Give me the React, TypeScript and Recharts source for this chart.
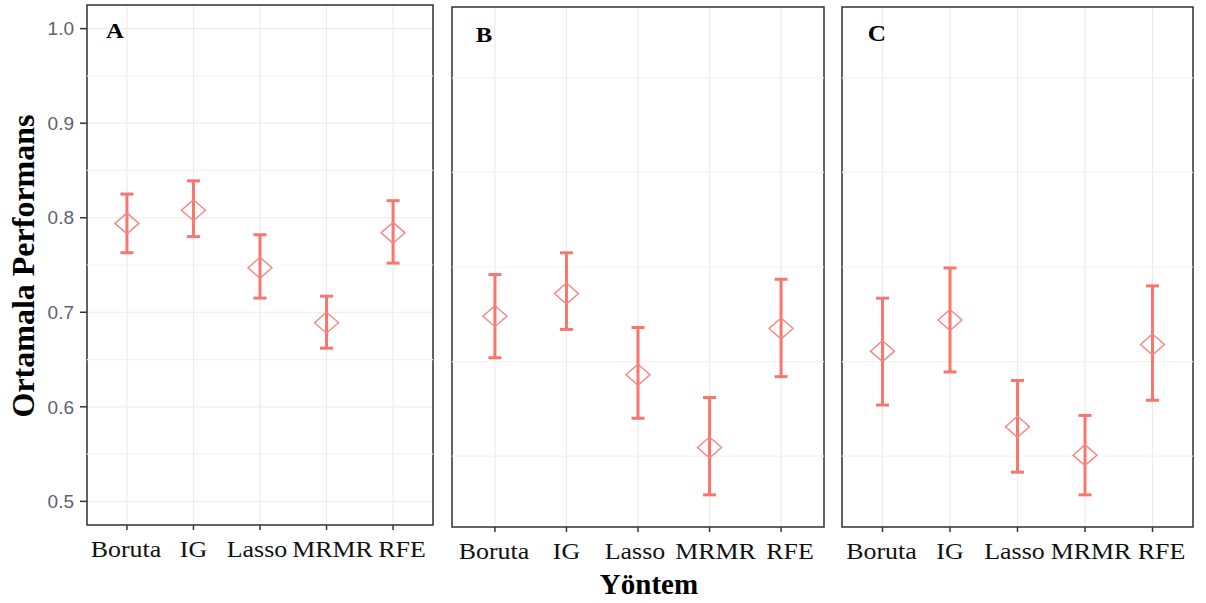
import { ComposedChart, Scatter, ErrorBar, XAxis, YAxis, CartesianGrid, ReferenceLine, ReferenceArea } from 'recharts';

// Yöntem (method) names on the x axis
const methods = ['Boruta', 'IG', 'Lasso', 'MRMR', 'RFE'];
const yTicks = [0.5, 0.6, 0.7, 0.8, 0.9, 1.0];
const minorTicks = [0.55, 0.65, 0.75, 0.85, 0.95];

// Panel A
const meanA = [0.794, 0.808, 0.747, 0.689, 0.784];
const lowA = [0.763, 0.780, 0.715, 0.662, 0.752];
const highA = [0.825, 0.839, 0.782, 0.717, 0.818];

// Panel B
const meanB = [0.698, 0.722, 0.636, 0.559, 0.685];
const lowB = [0.654, 0.684, 0.590, 0.509, 0.634];
const highB = [0.742, 0.765, 0.686, 0.612, 0.737];

// Panel C
const meanC = [0.661, 0.694, 0.581, 0.551, 0.668];
const lowC = [0.604, 0.639, 0.533, 0.509, 0.609];
const highC = [0.717, 0.749, 0.630, 0.593, 0.730];

const RED = '#F8766D';
const SERIF = '"Liberation Serif", "Times New Roman", serif';
// small horizontal nudges so the crowded labels don't run together
const labelNudge = [-1, 0, -3, 6, 9];

const rows = (mean: number[], low: number[], high: number[]) =>
  methods.map((m, i) => ({
    idx: i + 1,
    name: m,
    value: mean[i],
    err: [mean[i] - low[i], high[i] - mean[i]],
  }));

const Diamond = (props: any) => {
  const { cx, cy } = props;
  return (
    <path
      d={`M${cx},${cy - 10.5} L${cx + 12},${cy} L${cx},${cy + 10.5} L${cx - 12},${cy} Z`}
      fill="none"
      stroke="#f4877e"
      strokeWidth={1.4}
    />
  );
};

const MethodTick = (props: any) => {
  const { x, y, payload } = props;
  const i = payload.value - 1;
  return (
    <g transform={`translate(${x + labelNudge[i]},${y})`}>
      <text
        transform="scale(1.08,1)"
        textAnchor="middle"
        dy="0.71em"
        fill="#111"
        fontSize={24}
        fontFamily={SERIF}
      >
        {methods[i]}
      </text>
    </g>
  );
};

type PanelProps = {
  data: any[];
  left: number;
  width: number;
  yWidth: number;
  top: number;
  right: number;
  labels: boolean;
};

function Panel({ data, left, width, yWidth, top, right, labels }: PanelProps) {
  return (
    <div style={{ position: 'absolute', left, top: 0 }}>
      <ComposedChart width={width} height={603} data={data} margin={{ top, right, bottom: 0, left: 0 }}>
        <CartesianGrid stroke="#ebebeb" strokeWidth={1.2} />
        {minorTicks.map((v) => (
          <ReferenceLine key={v} y={v} stroke="#f3f3f3" strokeWidth={1.2} />
        ))}
        <XAxis
          type="number"
          dataKey="idx"
          domain={[0.4, 5.6]}
          ticks={[1, 2, 3, 4, 5]}
          allowDataOverflow
          interval={0}
          axisLine={false}
          tickSize={5}
          tickMargin={10}
          tickLine={{ stroke: '#333', strokeWidth: 1.5 }}
          tick={<MethodTick />}
          height={603 - 520 - top}
        />
        <YAxis
          type="number"
          domain={[0.475, 1.025]}
          ticks={yTicks}
          allowDataOverflow
          width={yWidth}
          axisLine={false}
          tickSize={7}
          tickMargin={6}
          tickLine={{ stroke: '#333', strokeWidth: 1.5 }}
          tickFormatter={(v) => v.toFixed(1)}
          tick={labels ? { fill: '#5b6270', fontSize: 19, fontFamily: '"Liberation Sans", Arial, sans-serif' } : false}
        />
        <ReferenceArea x1={0.4} x2={5.6} y1={0.475} y2={1.025} fill="none" stroke="#333" strokeWidth={1.5} />
        <Scatter dataKey="value" shape={Diamond} isAnimationActive={false}>
          <ErrorBar dataKey="err" direction="y" width={6.5} stroke={RED} strokeWidth={3} />
        </Scatter>
      </ComposedChart>
    </div>
  );
}

const label = (text: string, x: number, baseline: number, size: number, stretch = 1) => (
  <div
    style={{
      position: 'absolute',
      left: x,
      top: baseline - size * 0.8375,
      transform: `translateX(-50%) scaleX(${stretch})`,
      fontFamily: SERIF,
      fontWeight: 'bold',
      fontSize: size,
      lineHeight: 1,
      whiteSpace: 'nowrap',
      color: '#000',
    }}
  >
    {text}
  </div>
);

export default function App() {
  return (
    <div style={{ position: 'absolute', left: 0, top: 0, width: 1206, height: 603, background: '#fff', overflow: 'hidden' }}>
      <Panel data={rows(meanA, lowA, highA)} left={0} width={440} yWidth={87} top={5} right={7} labels />
      <Panel data={rows(meanB, lowB, highB)} left={440} width={390} yWidth={12} top={7} right={6} labels={false} />
      <Panel data={rows(meanC, lowC, highC)} left={830} width={370} yWidth={12} top={7} right={7} labels={false} />
      {label('A', 115, 39, 21, 1.18)}
      {label('B', 484, 42, 22, 1.12)}
      {label('C', 877, 41, 23, 1.1)}
      {label('Yöntem', 649, 594, 29)}
      <div
        style={{
          position: 'absolute',
          left: 23,
          top: 266,
          transform: 'translate(-50%, -50%) rotate(-90deg)',
          fontFamily: SERIF,
          fontWeight: 'bold',
          fontSize: 32,
          lineHeight: 1,
          whiteSpace: 'nowrap',
          color: '#000',
        }}
      >
        Ortamala Performans
      </div>
    </div>
  );
}
